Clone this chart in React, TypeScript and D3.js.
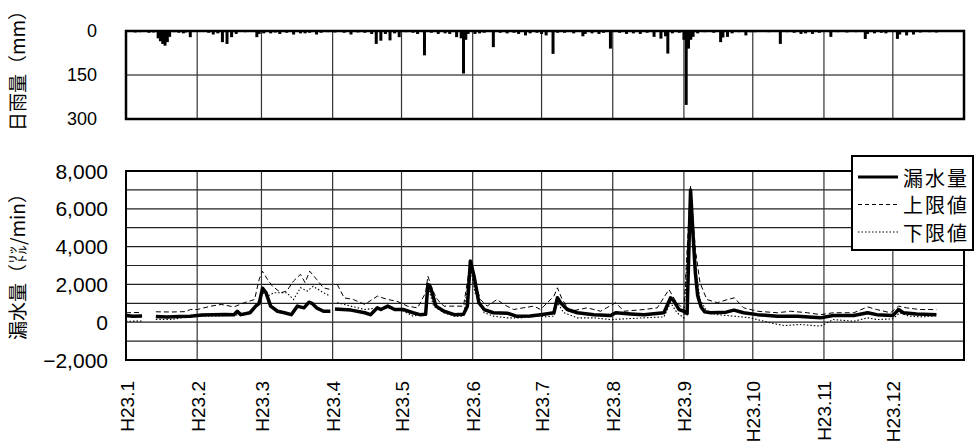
import React, { useEffect, useRef } from "react";
import * as d3 from "d3";

// month labels (H23 = 2011)
const monthLabels = ["H23.1", "H23.2", "H23.3", "H23.4", "H23.5", "H23.6", "H23.7", "H23.8", "H23.9", "H23.10", "H23.11", "H23.12"];
const rainTicks = [0, 150, 300];
const flowTicks = [8000, 6000, 4000, 2000, 0, -2000];
const flowTickLabels = ["8,000", "6,000", "4,000", "2,000", "0", "\u22122,000"];
const legendLabels = ["漏水量", "上限値", "下限値"];

// daily rainfall [day of year, mm]
const rain: [number, number][] = [
  [2, 3], [4, 5], [6, 4], [8, 3], [10, 6], [12, 5], [14, 25], [15, 35], [16, 44], [17, 50], [18, 38], [19, 20], [21, 4], [23, 6], [25, 8], [26, 5], [28, 21],
  [33, 3], [36, 6], [38, 12], [40, 8], [42, 38], [44, 44], [46, 21], [48, 10], [52, 4],
  [57, 21], [58, 10], [60, 8], [63, 8], [65, 5], [67, 10], [70, 6], [73, 12], [76, 8], [78, 8], [80, 6], [83, 12], [85, 6], [88, 4],
  [91, 5], [95, 6], [98, 12], [101, 5], [104, 6], [107, 10], [109, 44], [111, 33], [113, 10], [115, 32], [117, 8], [119, 21],
  [122, 4], [125, 6], [127, 10], [130, 83], [133, 6], [136, 10], [139, 8], [141, 10], [144, 21], [146, 25], [147, 145], [148, 30], [149, 10],
  [152, 10], [154, 8], [156, 6], [160, 55], [163, 6], [166, 8], [169, 6], [171, 10], [174, 15], [176, 8], [179, 6],
  [181, 10], [183, 15], [186, 78], [188, 6], [191, 6], [195, 8], [199, 18], [200, 10], [203, 8], [206, 10], [208, 6], [211, 60],
  [215, 6], [218, 10], [221, 8], [224, 10], [227, 6], [230, 20], [233, 26], [235, 18], [236, 77], [238, 8], [241, 6],
  [243, 30], [244, 252], [245, 60], [246, 30], [247, 20], [249, 8], [252, 4], [256, 6], [259, 38], [260, 22], [262, 20], [264, 8], [267, 4], [270, 15], [272, 4],
  [274, 4], [277, 3], [280, 4], [285, 44], [288, 4], [291, 6], [294, 10], [296, 8], [299, 10], [302, 6],
  [307, 20], [310, 4], [314, 5], [318, 4], [322, 27], [323, 10], [326, 8], [329, 6], [331, 8],
  [336, 27], [337, 12], [340, 15], [343, 12], [346, 5], [350, 4], [353, 5], [356, 3],
];

// leak flow [day of year, L/min], null = no data
const leak: [number, number | null][] = [
  [0, 350], [3, 320], [7, 330], [10, null], [13, 300], [18, 280], [23, 300], [28, 320], [33, 380], [38, 400], [43, 410], [47, 390],
  [48.5, 580], [50, 400], [54, 500], [56.5, 850], [58, 1000], [59.5, 1800], [61, 1550], [63, 850], [66, 580], [69, 500], [72, 400],
  [74.6, 850], [77.5, 760], [79.7, 1060], [81, 1000], [83, 760], [86, 580], [89, 580], [90, null], [91, 700], [98, 640], [104, 500],
  [106.5, 400], [109.5, 760], [111, 670], [114, 850], [117, 670], [121, 670], [125, 500], [128, 400], [130.5, 420], [131.5, 2000],
  [132.7, 1820], [135, 850], [138.5, 580], [143, 400], [147, 420], [148.7, 850], [150, 3240], [151.6, 2440], [153.7, 1030], [156, 670],
  [160, 500], [166, 480], [170, 320], [176, 330], [180.6, 400], [186.4, 500], [187.9, 1290], [189.3, 1030], [192.2, 670], [196.6, 500],
  [203.8, 400], [211, 350], [213.3, 500], [219.8, 440], [225.6, 400], [234.3, 500], [237.2, 1290], [238.7, 1110], [240.9, 670],
  [243, 580], [244.4, 450], [245.9, 7000], [247, 4600], [248, 2600], [249, 1400], [250.5, 800], [252, 550], [254.7, 500], [261.4, 530],
  [264.8, 640], [269, 500], [275, 400], [283.7, 320], [292.4, 320], [302.5, 230], [308, 350], [317, 350], [323, 500], [327, 400],
  [334, 350], [336.5, 670], [338.6, 500], [344.3, 440], [353, 400],
];

// upper limit
const upper: [number, number | null][] = [
  [0, 500], [7, 520], [10, null], [13, 550], [20, 540], [26, 560], [28, 670], [31, 670], [37, 850], [41.5, 940], [47, 810], [51.5, 1030],
  [56, 1200], [58, 2270], [59.4, 2700], [61.6, 2270], [63.8, 1900], [67.5, 1560], [70, 1650], [73, 2180], [76, 2530], [78, 2090],
  [80, 2700], [83, 2270], [86, 1820], [89, 1730], [90, null], [92, 2000], [95, 1290], [99, 1200], [104, 940], [109.5, 1380], [114, 1200],
  [118, 1110], [122.6, 850], [127, 760], [130.5, 1560], [131.5, 2440], [133.4, 1730], [135.6, 1200], [138.5, 850], [143, 850], [147, 850],
  [150, 3150], [152, 2090], [154.4, 1200], [157.3, 850], [161.6, 1200], [164.5, 940], [168.9, 670], [173, 760], [177.7, 850], [180.6, 670],
  [182, 850], [186.4, 1380], [187.9, 1820], [190, 1200], [193.6, 580], [200.9, 760], [206.7, 580], [213.3, 1030], [216.9, 580],
  [225.6, 670], [231.4, 760], [236.5, 1730], [239.4, 1110], [243, 670], [245.9, 7200], [248, 3860], [250, 2090], [253, 1200],
  [257.6, 1030], [262, 1200], [265, 1290], [269, 760], [275, 580], [283.7, 500], [289.5, 580], [296.8, 500], [302.5, 400], [308, 500],
  [317, 500], [323, 810], [327, 670], [333, 500], [336.5, 850], [340, 760], [345.7, 670], [353, 670],
];

// lower limit
const lower: [number, number | null][] = [
  [0, 50], [7, 60], [10, null], [13, 150], [20, 140], [28, 320], [40, 330], [51.5, 400], [56, 670], [58, 1200], [59.4, 1560], [61.6, 1380],
  [64.5, 1560], [67.5, 1560], [70, 1560], [73, 1200], [76, 1820], [79, 1650], [81.5, 1900], [86, 1560], [89, 1380], [90, null], [92, 1030],
  [98, 850], [104, 670], [109.5, 760], [115.5, 760], [121, 580], [125, 320], [130.5, 500], [131.5, 1900], [134, 850], [138.5, 500],
  [143, 320], [147, 320], [150, 2970], [152, 1560], [156, 500], [160, 320], [166, 230], [172, 230], [176, 280], [180.6, 350], [182, 280],
  [186.4, 320], [187.9, 1030], [190.7, 500], [196.6, 230], [203.8, 230], [211, 140], [218, 180], [225.6, 230], [234.3, 280],
  [237.2, 1030], [240, 500], [243, 230], [245.9, 6800], [248, 2970], [250, 1200], [253, 580], [257.6, 400], [264.8, 320], [272, 230],
  [280.8, -35], [286.6, -180], [293.9, -120], [302.5, -210], [308, 140], [317, 50], [323, 230], [327, 140], [334, 180], [337, 500],
  [341, 320], [347, 280], [353, 350],
];

const JP = "'Noto Sans CJK JP', sans-serif";
const NUM = "'Liberation Sans', Arial, sans-serif";

export default function App() {
  const ref = useRef<SVGSVGElement>(null);

  useEffect(() => {
    const svg = d3.select(ref.current);
    svg.selectAll("*").remove();

    const x = d3.scaleLinear().domain([0, 365]).range([126, 964]);
    const monthStart = d3.range(12).map((m) => d3.timeDay.count(new Date(2011, 0, 1), new Date(2011, m, 1)));
    const yRain = d3.scaleLinear().domain([0, 300]).range([31, 119]);
    const yFlow = d3.scaleLinear().domain([-2000, 8000]).range([360, 171]);

    // ---- rainfall panel
    const top = svg.append("g");
    top.append("line").attr("x1", x(0)).attr("x2", x(365)).attr("y1", yRain(150)).attr("y2", yRain(150))
      .attr("stroke", "#000").attr("stroke-width", 1.2);
    top.selectAll(".vm").data(monthStart.slice(1)).enter().append("line")
      .attr("x1", (d) => x(d)).attr("x2", (d) => x(d)).attr("y1", yRain(0)).attr("y2", yRain(300))
      .attr("stroke", "#333").attr("stroke-width", 1.2);
    top.selectAll(".bar").data(rain).enter().append("rect")
      .attr("x", (d) => x(d[0]) - 1.5).attr("width", 3)
      .attr("y", yRain(0)).attr("height", (d) => yRain(d[1]) - yRain(0))
      .attr("fill", "#000");
    top.append("rect").attr("x", x(0)).attr("y", yRain(0)).attr("width", x(365) - x(0)).attr("height", yRain(300) - yRain(0))
      .attr("fill", "none").attr("stroke", "#000").attr("stroke-width", 2.5);
    top.selectAll(".tk").data(rainTicks).enter().append("text")
      .attr("x", 97).attr("y", (d) => yRain(d)).attr("text-anchor", "end").attr("dominant-baseline", "central")
      .attr("fill", "#000").style("font-family", NUM).style("font-size", "18px").text((d) => String(d));
    top.append("text").attr("transform", "translate(16,66) rotate(-90)").attr("text-anchor", "middle")
      .attr("dominant-baseline", "central").attr("fill", "#000")
      .style("font-family", JP).style("font-size", "19px").text("日雨量（mm）");

    // ---- leak panel
    const bot = svg.append("g");
    bot.selectAll(".hg").data(d3.range(-2000, 8001, 1000)).enter().append("line")
      .attr("x1", x(0)).attr("x2", x(365)).attr("y1", (d) => yFlow(d)).attr("y2", (d) => yFlow(d))
      .attr("stroke", "#222").attr("stroke-width", 1.2);
    bot.selectAll(".vg").data(monthStart.slice(1)).enter().append("line")
      .attr("x1", (d) => x(d)).attr("x2", (d) => x(d)).attr("y1", yFlow(8000)).attr("y2", yFlow(-2000))
      .attr("stroke", "#333").attr("stroke-width", 1.2);
    bot.append("rect").attr("x", x(0)).attr("y", yFlow(8000)).attr("width", x(365) - x(0)).attr("height", yFlow(-2000) - yFlow(8000))
      .attr("fill", "none").attr("stroke", "#000").attr("stroke-width", 2);

    const line = d3.line<[number, number | null]>()
      .defined((d) => d[1] !== null)
      .x((d) => x(d[0])).y((d) => yFlow(d[1] as number));

    bot.append("path").attr("d", line(lower)).attr("fill", "none").attr("stroke", "#000")
      .attr("stroke-width", 1.1).attr("stroke-dasharray", "1.5,2");
    bot.append("path").attr("d", line(upper)).attr("fill", "none").attr("stroke", "#000")
      .attr("stroke-width", 1).attr("stroke-dasharray", "5,3");
    bot.append("path").attr("d", line(leak)).attr("fill", "none").attr("stroke", "#000")
      .attr("stroke-width", 3.5).attr("stroke-linejoin", "round");

    bot.selectAll(".ft").data(flowTicks).enter().append("text")
      .attr("x", 108).attr("y", (d) => yFlow(d)).attr("text-anchor", "end").attr("dominant-baseline", "central")
      .attr("fill", "#000").style("font-family", NUM).style("font-size", "21px").text((d, i) => flowTickLabels[i]);
    bot.append("text").attr("transform", "translate(16,262) rotate(-90)").attr("text-anchor", "middle")
      .attr("dominant-baseline", "central").attr("fill", "#000")
      .style("font-family", JP).style("font-size", "19px").text("漏水量（㍑/min）");

    // month labels
    bot.selectAll(".ml").data(monthStart).enter().append("text")
      .attr("transform", (d) => `translate(${x(d) + 1},381) rotate(-90)`)
      .attr("text-anchor", "end").attr("dominant-baseline", "central").attr("fill", "#000")
      .style("font-family", NUM).style("font-size", "19px").text((d, i) => monthLabels[i]);

    // legend
    const lg = svg.append("g");
    lg.append("rect").attr("x", 852).attr("y", 156).attr("width", 121).attr("height", 94)
      .attr("fill", "#fff").attr("stroke", "#000").attr("stroke-width", 2);
    const styles = [
      { w: 3, dash: null },
      { w: 1, dash: "4,3" },
      { w: 1.1, dash: "1.5,2" },
    ];
    legendLabels.forEach((lab, i) => {
      const cy = 177 + i * 27.5;
      lg.append("line").attr("x1", 858).attr("x2", 898).attr("y1", cy).attr("y2", cy)
        .attr("stroke", "#000").attr("stroke-width", styles[i].w)
        .attr("stroke-dasharray", styles[i].dash);
      lg.append("text").attr("x", 903).attr("y", cy).attr("dominant-baseline", "central").attr("fill", "#000")
        .style("font-family", JP).style("font-size", "20px").style("letter-spacing", "2px").text(lab);
    });
  }, []);

  return (
    <svg ref={ref} width={976} height={447} style={{ position: "absolute", left: 0, top: 0, background: "#fff" }} />
  );
}
